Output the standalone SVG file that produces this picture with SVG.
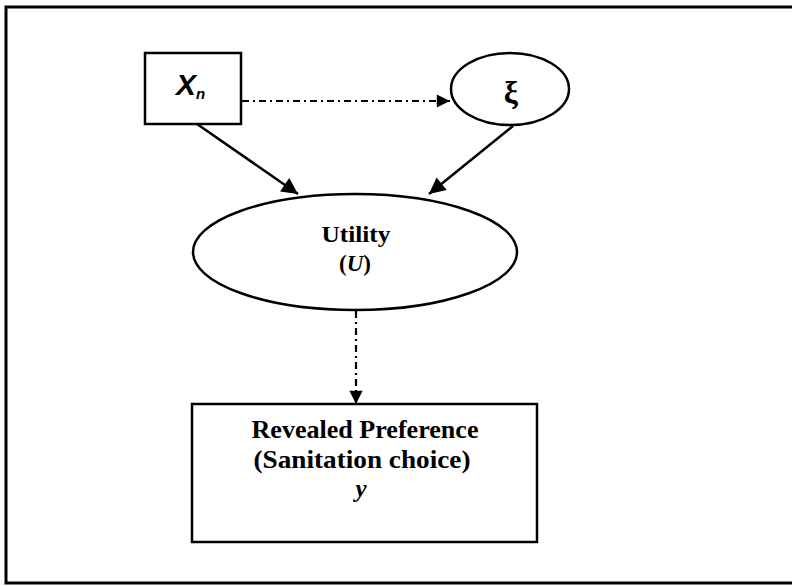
<svg xmlns="http://www.w3.org/2000/svg" width="792" height="586" viewBox="0 0 792 586">
<defs>
<style>
.shape{fill:#fff;stroke:#000;stroke-width:2.5}
.solid{stroke:#000;stroke-width:2.5;fill:none}
.dd{stroke:#000;stroke-width:2.2;fill:none;stroke-dasharray:7 4 2 4}
.tb{font-family:"Liberation Serif","Times New Roman",serif;font-weight:bold;fill:#000;text-anchor:middle}
.ts{font-family:"Liberation Sans",Arial,sans-serif;font-weight:bold;font-style:italic;fill:#000}
</style>
<marker id="ah" viewBox="0 0 10 10" refX="10" refY="5" markerWidth="8" markerHeight="6.5" markerUnits="strokeWidth" orient="auto">
<path d="M0,0 L10,5 L0,10 z" fill="#000"/>
</marker>
<marker id="ahs" viewBox="0 0 10 10" refX="10" refY="5" markerWidth="7.5" markerHeight="6" markerUnits="strokeWidth" orient="auto">
<path d="M0,0 L10,5 L0,10 z" fill="#000"/>
</marker>
</defs>
<rect x="6" y="7" width="800" height="576" fill="#fff" stroke="#000" stroke-width="3"/>
<g id="connectors">
<line class="dd" x1="242" y1="101" x2="450" y2="101" marker-end="url(#ahs)"/>
<line class="solid" x1="197" y1="124" x2="298" y2="194" marker-end="url(#ah)"/>
<line class="solid" x1="513" y1="126" x2="429" y2="194" marker-end="url(#ah)"/>
<line class="dd" x1="356" y1="311" x2="356" y2="404" marker-end="url(#ahs)"/>
</g>
<g id="node-xn">
<rect class="shape" x="145" y="53" width="96" height="71"/>
<text class="ts" x="176" y="95" font-size="30">X</text>
<text class="ts" x="196" y="99" font-size="15">n</text>
</g>
<g id="node-xi">
<ellipse class="shape" cx="510" cy="89" rx="59" ry="36"/>
<text class="tb" x="511" y="103" font-size="32">ξ</text>
</g>
<g id="node-utility">
<ellipse class="shape" cx="355" cy="252" rx="162" ry="58"/>
<text class="tb" x="356" y="242" font-size="23" textLength="69" lengthAdjust="spacingAndGlyphs">Utility</text>
<text class="tb" x="355" y="271" font-size="23">(<tspan font-style="italic">U</tspan>)</text>
</g>
<g id="node-preference">
<rect class="shape" x="192" y="404" width="345" height="138"/>
<text class="tb" x="365" y="438" font-size="25" textLength="227" lengthAdjust="spacingAndGlyphs">Revealed Preference</text>
<text class="tb" x="362" y="468" font-size="25" textLength="217" lengthAdjust="spacingAndGlyphs">(Sanitation choice)</text>
<text class="tb" x="361" y="497" font-size="25" font-style="italic">y</text>
</g>
</svg>
